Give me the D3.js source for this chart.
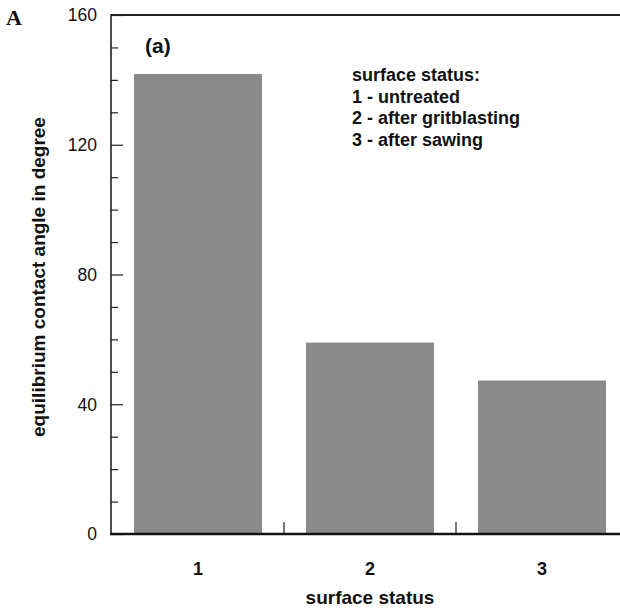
<!DOCTYPE html>
<html>
<head>
<meta charset="utf-8">
<script src="https://cdn.jsdelivr.net/npm/d3@7/dist/d3.min.js"></script>
<style>
  html, body { margin: 0; padding: 0; background: #fff; overflow: hidden; }
  svg { display: block; }
</style>
</head>
<body>
<svg id="chart" width="620" height="608"></svg>
<script>
// ---- data ----
const categories = ["1", "2", "3"];
const contactAngle = [141.8, 59.0, 47.3];
const yTicksMajor = [0, 40, 80, 120, 160];
const yTicksMinor = [10, 20, 30, 50, 60, 70, 90, 100, 110, 130, 140, 150];
const legendLines = ["surface status:", "1 - untreated", "2 - after gritblasting", "3 - after sawing"];

(function () {
const svg = d3.select("#chart");
const plotL = 111, plotT = 15, plotB = 534;

const x = d3.scaleBand().domain(categories).range([112, 628])
  .paddingInner(0.256).paddingOuter(0.128);
const y = d3.scaleLinear().domain([0, 160]).range([plotB, plotT]);

const font = "'Liberation Sans', Arial, Helvetica, sans-serif";

// bars
svg.append("g").selectAll("rect").data(categories).join("rect")
  .attr("x", d => x(d))
  .attr("width", x.bandwidth())
  .attr("y", (d, i) => y(contactAngle[i]))
  .attr("height", (d, i) => y(0) - y(contactAngle[i]))
  .attr("fill", "#898989");

// left axis: inward ticks
const yAxisMajor = d3.axisRight(y).tickValues(yTicksMajor).tickSize(12).tickFormat("");
const yAxisMinor = d3.axisRight(y).tickValues(yTicksMinor).tickSize(7).tickFormat("");
const gy = svg.append("g").attr("transform", `translate(${plotL},0)`);
gy.call(yAxisMajor);
gy.select(".domain").remove();
const gy2 = svg.append("g").attr("transform", `translate(${plotL},0)`);
gy2.call(yAxisMinor);
gy2.select(".domain").remove();
svg.selectAll(".tick line").attr("stroke", "#222").attr("stroke-width", 1.2);

// y tick labels
svg.append("g").selectAll("text").data(yTicksMajor).join("text")
  .attr("x", 97).attr("y", d => y(d)).attr("dy", "0.36em")
  .attr("text-anchor", "end")
  .attr("font-family", font).attr("font-size", 17.5)
  .attr("fill", "#111")
  .text(d => d);

// bottom axis ticks at band boundaries (upward)
const boundaries = [x(categories[1]) - x.step() * x.paddingInner() / 2,
                    x(categories[2]) - x.step() * x.paddingInner() / 2];
svg.append("g").selectAll("line").data(boundaries).join("line")
  .attr("x1", d => d).attr("x2", d => d)
  .attr("y1", plotB).attr("y2", plotB - 12)
  .attr("stroke", "#222").attr("stroke-width", 1.2);

// x tick labels
svg.append("g").selectAll("text").data(categories).join("text")
  .attr("x", d => x(d) + x.bandwidth() / 2).attr("y", 575)
  .attr("text-anchor", "middle")
  .attr("font-family", font).attr("font-size", 18).attr("font-weight", "bold")
  .attr("fill", "#111")
  .text(d => d);

// frame lines
svg.append("line").attr("x1", plotL).attr("x2", 640).attr("y1", plotT).attr("y2", plotT)
  .attr("stroke", "#222").attr("stroke-width", 2);
svg.append("line").attr("x1", plotL).attr("x2", plotL).attr("y1", plotT - 1).attr("y2", plotB + 1)
  .attr("stroke", "#222").attr("stroke-width", 1.6);
svg.append("line").attr("x1", plotL - 1).attr("x2", 640).attr("y1", plotB).attr("y2", plotB)
  .attr("stroke", "#111").attr("stroke-width", 2.6);

// axis titles
svg.append("text")
  .attr("transform", "translate(45,277) rotate(-90)")
  .attr("text-anchor", "middle")
  .attr("font-family", font).attr("font-size", 19).attr("font-weight", "bold")
  .attr("fill", "#111")
  .text("equilibrium contact angle in degree");

svg.append("text")
  .attr("x", 370).attr("y", 604)
  .attr("text-anchor", "middle")
  .attr("font-family", font).attr("font-size", 19).attr("font-weight", "bold")
  .attr("fill", "#111")
  .text("surface status");

// panel labels
svg.append("text").attr("x", 6).attr("y", 25)
  .attr("font-family", "'Liberation Serif', 'Times New Roman', serif")
  .attr("font-size", 22).attr("font-weight", "bold").attr("fill", "#111")
  .text("A");

svg.append("text").attr("x", 145).attr("y", 53)
  .attr("font-family", font).attr("font-size", 21).attr("font-weight", "bold")
  .attr("fill", "#111")
  .text("(a)");

// legend text
const legendBaselines = [81, 102.7, 124.4, 146.1];
svg.append("g").selectAll("text").data(legendLines).join("text")
  .attr("x", 352).attr("y", (d, i) => legendBaselines[i])
  .attr("font-family", font).attr("font-size", 18).attr("font-weight", "bold")
  .attr("fill", "#111")
  .text(d => d);
})();
</script>
</body>
</html>
